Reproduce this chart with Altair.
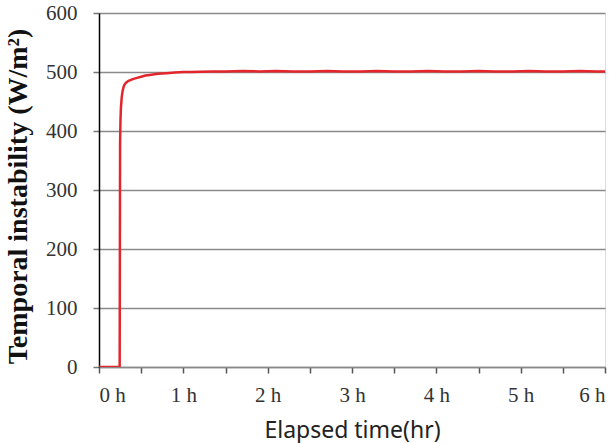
import altair as alt
import pandas as pd

hours = [0.0, 0.10, 0.20, 0.245, 0.25, 0.255, 0.26, 0.27, 0.28, 0.29, 0.30, 0.32, 0.35,
         0.40, 0.45, 0.50, 0.55, 0.60, 0.70, 0.80, 0.90, 1.00, 1.10, 1.20, 1.35,
         1.50, 1.70, 1.90, 2.10, 2.30, 2.50, 2.70, 2.90, 3.10, 3.30, 3.50, 3.70,
         3.90, 4.10, 4.30, 4.50, 4.70, 4.90, 5.10, 5.30, 5.50, 5.70, 5.90, 6.00]
power = [0, 0, 0, 0, 380, 420, 440, 458, 468, 474, 478, 482, 485,
         488, 490, 492, 494, 495, 497, 498, 499, 500, 500, 500.5, 501,
         501, 501.5, 501, 501.5, 501, 501, 501.5, 501, 501, 501.5, 501, 501,
         501.5, 501, 501, 501.5, 501, 501, 501.5, 501, 501, 501.5, 501, 501]

x_ticks = [0, 0.5, 1, 1.5, 2, 2.5, 3, 3.5, 4, 4.5, 5, 5.5, 6]
y_ticks = [0, 100, 200, 300, 400, 500, 600]

df = pd.DataFrame({"t": hours, "p": power})

chart = alt.Chart(df).mark_line(color="#e3262b", strokeWidth=2.5, clip=True).encode(
    x=alt.X("t:Q", scale=alt.Scale(domain=[0, 6], nice=False, zero=False),
            axis=alt.Axis(values=x_ticks, grid=False,
                          labelExpr="datum.value % 1 == 0 ? datum.value + ' h' : ''",
                          labelFont="Liberation Serif", labelFontSize=21,
                          labelColor="#333333", labelPadding=11,
                          tickSize=6, tickColor="#555555", tickWidth=1.5,
                          domainColor="#888888", domainWidth=1.5,
                          title="Elapsed time(hr)", titleFont="Noto Sans",
                          titleFontSize=23, titleFontWeight="normal",
                          titleColor="#222222", titleY=70,
                          titleBaseline="alphabetic")),
    y=alt.Y("p:Q", scale=alt.Scale(domain=[0, 600], nice=False),
            axis=alt.Axis(values=y_ticks, grid=True, gridColor="#8a8a8a",
                          gridWidth=1.5, labelFont="Liberation Serif",
                          labelFontSize=21, labelColor="#333333", labelPadding=16,
                          tickSize=6, tickColor="#777777", tickWidth=1.5,
                          domainColor="#000000", domainWidth=1.5,
                          title="Temporal instability (W/m²)",
                          titleFont="Liberation Serif", titleFontSize=28,
                          titleFontWeight="bold", titleColor="#111111",
                          titleX=-81, titleY=183, titleAngle=-90,
                          titleAlign="center", titleBaseline="middle")),
).properties(
    width=506, height=354,
    autosize=alt.AutoSizeParams(type="none"),
    padding={"left": 99, "top": 13, "right": 11, "bottom": 76},
).configure_view(stroke="#888888", strokeWidth=1.5).configure(background="white")

chart.save("out.html", embed_options={"renderer": "svg", "actions": False})
